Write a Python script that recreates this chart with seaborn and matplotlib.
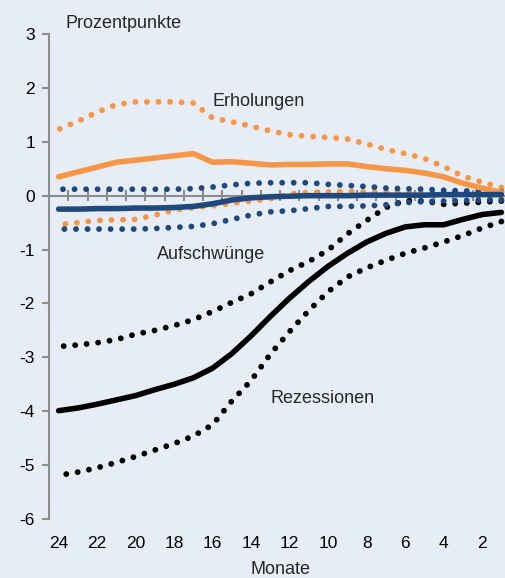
import numpy as np
import pandas as pd
import seaborn as sns
import matplotlib
matplotlib.use("Agg")
import matplotlib.pyplot as plt

# ---- data ----
months = list(range(24, 0, -1))
tick_months = [24, 22, 20, 18, 16, 14, 12, 10, 8, 6, 4, 2]
y_ticks = [3, 2, 1, 0, -1, -2, -3, -4, -5, -6]

erh_mid = [0.35, 0.44, 0.53, 0.62, 0.66, 0.70, 0.74, 0.78, 0.62, 0.63, 0.60, 0.57,
           0.58, 0.58, 0.59, 0.59, 0.54, 0.50, 0.47, 0.42, 0.35, 0.23, 0.14, 0.06]
erh_hi = [1.23, 1.38, 1.55, 1.69, 1.74, 1.74, 1.74, 1.72, 1.44, 1.37, 1.29, 1.20,
          1.13, 1.10, 1.08, 1.05, 0.96, 0.86, 0.78, 0.69, 0.54, 0.36, 0.25, 0.15]
erh_lo = [-0.54, -0.50, -0.46, -0.45, -0.44, -0.36, -0.27, -0.22, -0.19, -0.14, -0.10, -0.06,
          0.03, 0.06, 0.07, 0.08, 0.07, 0.07, 0.06, 0.06, 0.05, 0.04, 0.00, -0.05]

auf_mid = [-0.25, -0.25, -0.24, -0.24, -0.23, -0.23, -0.22, -0.20, -0.15, -0.08, -0.04, -0.02,
           -0.01, 0.00, 0.00, 0.00, 0.01, 0.01, 0.01, 0.01, 0.02, 0.02, 0.02, 0.02]
auf_hi = [0.12, 0.12, 0.12, 0.12, 0.12, 0.12, 0.12, 0.13, 0.16, 0.20, 0.23, 0.24,
          0.24, 0.24, 0.21, 0.19, 0.17, 0.14, 0.13, 0.12, 0.10, 0.09, 0.08, 0.07]
auf_lo = [-0.62, -0.62, -0.62, -0.62, -0.62, -0.61, -0.59, -0.57, -0.52, -0.44, -0.36, -0.30,
          -0.28, -0.24, -0.20, -0.20, -0.19, -0.17, -0.13, -0.11, -0.10, -0.09, -0.08, -0.08]

rez_mid = [-3.99, -3.94, -3.87, -3.79, -3.71, -3.60, -3.50, -3.38, -3.20, -2.93, -2.60, -2.24,
           -1.90, -1.59, -1.31, -1.07, -0.86, -0.70, -0.58, -0.54, -0.54, -0.44, -0.35, -0.31]
rez_hi = [-2.80, -2.77, -2.73, -2.67, -2.57, -2.50, -2.41, -2.30, -2.15, -1.98, -1.82, -1.60,
          -1.39, -1.22, -1.01, -0.71, -0.46, -0.22, -0.09, -0.10, -0.16, -0.14, -0.12, -0.10]
rez_lo = [-5.19, -5.13, -5.05, -4.95, -4.84, -4.72, -4.60, -4.46, -4.25, -3.81, -3.43, -2.94,
          -2.52, -2.13, -1.78, -1.51, -1.34, -1.20, -1.07, -0.97, -0.86, -0.74, -0.60, -0.48]

# ---- style ----
BG = "#E7EDF6"
ORANGE = "#F79646"
BLUE = "#1F497D"
BLACK = "#000000"
GRAY = "#8C8C8C"

sns.set_theme(style="white")
plt.rcParams["font.family"] = ["Liberation Sans", "DejaVu Sans"]

fig = plt.figure(figsize=(5.06, 5.78), dpi=100, facecolor=BG)
ax = fig.add_axes([49 / 506, 1 - 519 / 578, 1 - 49 / 506, (519 - 34) / 578])
ax.set_facecolor(BG)

dot_lw = 4.2
dot_style = (0, (0.01, 1.97))
solid_lw = 4.0

# zero line with crossing ticks between months
ax.axhline(0, color=GRAY, lw=1.5, zorder=1)
half = np.array(months) - 0.5
ax.vlines(half, -0.1, 0.1, color=GRAY, lw=1.5, zorder=1)

series = [
    (rez_hi, BLACK, "dot"), (rez_lo, BLACK, "dot"), (rez_mid, BLACK, "solid"),
    (erh_hi, ORANGE, "dot"), (erh_lo, ORANGE, "dot"), (erh_mid, ORANGE, "solid"),
    (auf_hi, BLUE, "dot"), (auf_lo, BLUE, "dot"), (auf_mid, BLUE, "solid"),
]
for vals, col, kind in series:
    df = pd.DataFrame({"Monat": months, "Wert": vals})
    if kind == "dot":
        sns.lineplot(data=df, x="Monat", y="Wert", ax=ax, color=col, linewidth=dot_lw,
                     linestyle=dot_style, dash_capstyle="round", zorder=3)
    else:
        sns.lineplot(data=df, x="Monat", y="Wert", ax=ax, color=col, linewidth=solid_lw,
                     solid_capstyle="round", solid_joinstyle="round", zorder=4)

ax.set_xlim(24.5, 0.76)
ax.set_ylim(-6, 3)

FS = 12.5
ax.set_xticks(tick_months)
ax.set_xticklabels([str(m) for m in tick_months], fontsize=FS, color="black")
ax.set_yticks(y_ticks)
ax.set_yticklabels([str(v) for v in y_ticks], fontsize=FS, color="black")
ax.tick_params(axis="x", length=0, pad=12)
ax.tick_params(axis="y", length=5, width=1.5, color=GRAY, pad=5, left=True)

for s in ["top", "right", "bottom"]:
    ax.spines[s].set_visible(False)
ax.spines["left"].set_color(GRAY)
ax.spines["left"].set_linewidth(1.5)

ax.set_xlabel("")
ax.set_ylabel("")

TS = 13
ax.text(16.0, 1.74, "Erholungen", fontsize=TS, va="center", ha="left")
ax.text(18.9, -1.10, "Aufschwünge", fontsize=TS, va="center", ha="left")
ax.text(13.0, -3.76, "Rezessionen", fontsize=TS, va="center", ha="left")

fig.text(66 / 506, 1 - 23 / 578, "Prozentpunkte", fontsize=TS, va="center", ha="left")
fig.text(280 / 506, 1 - 570 / 578, "Monate", fontsize=TS, va="center", ha="center")

fig.savefig("out.png", dpi=100, facecolor=BG)
